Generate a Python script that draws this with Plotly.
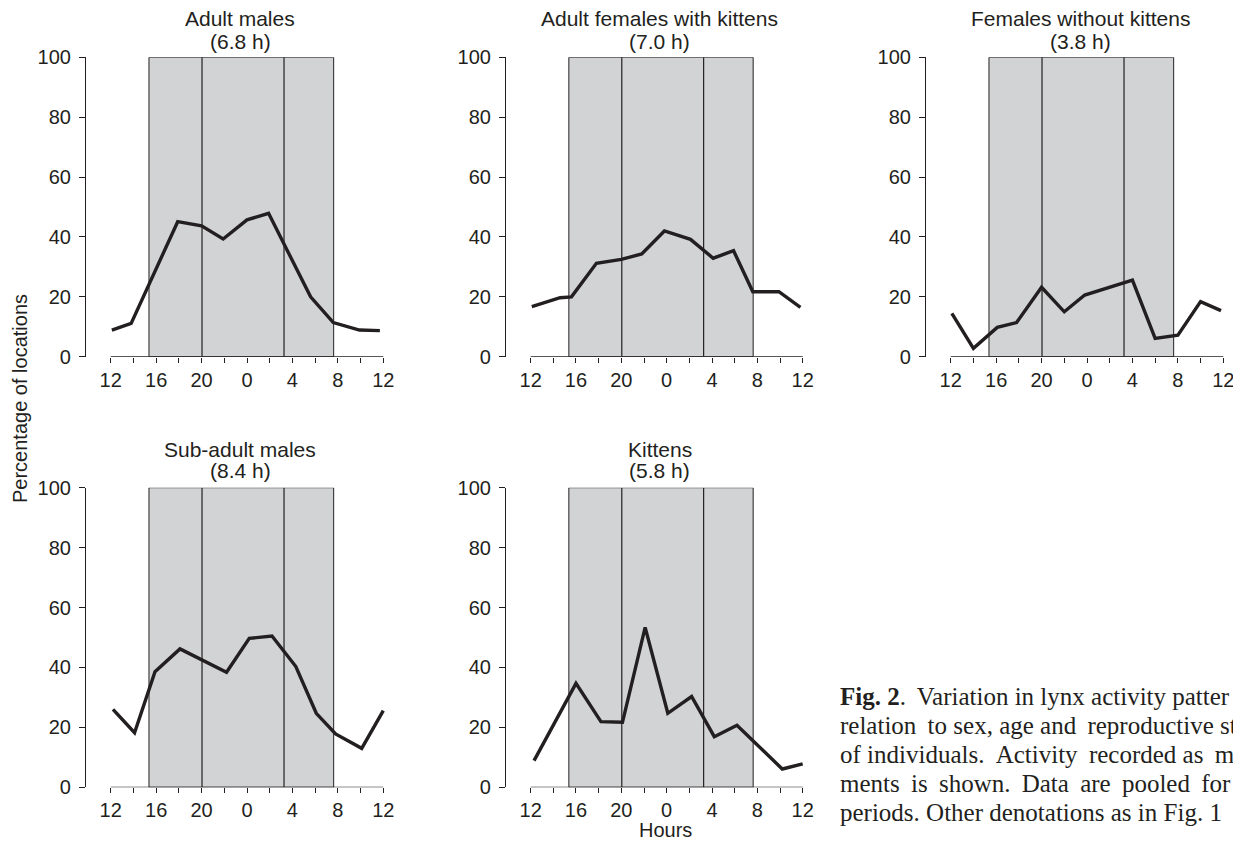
import plotly.graph_objects as go

# The page body adds an 8 px margin, so the figure is drawn 8 px smaller
# and every pixel position below is measured on the 1241x841 page.
PAGE_W, PAGE_H = 1241, 841
OFF = 8
W, H = PAGE_W - OFF, PAGE_H - OFF

# ---- data (x = hours after noon, 0..24) ----
hour_ticks = [0, 2, 4, 6, 8, 10, 12, 14, 16, 18, 20, 22, 24]
hour_labels = ['12', '', '16', '', '20', '', '0', '', '4', '', '8', '', '12']
y_ticks = [0, 20, 40, 60, 80, 100]
night_span = [3.37, 19.63]      # shaded period (hours after noon)
dividers = [8.04, 15.26]        # vertical separators

titles = ["Adult males", "Adult females with kittens", "Females without kittens",
          "Sub-adult males", "Kittens"]
durations = ["(6.8 h)", "(7.0 h)", "(3.8 h)", "(8.4 h)", "(5.8 h)"]

am_x = [0.1, 1.8, 5.9, 8.0, 9.9, 12.0, 13.9, 17.6, 19.6, 21.9, 23.7]
am_y = [8.9, 11.1, 45.1, 43.7, 39.3, 45.7, 47.9, 20.0, 11.4, 8.9, 8.7]

af_x = [0.1, 2.6, 3.6, 5.8, 8.0, 9.8, 11.8, 14.1, 16.1, 17.9, 19.6, 21.9, 23.8]
af_y = [16.7, 19.7, 20.0, 31.2, 32.5, 34.3, 42.0, 39.2, 32.9, 35.4, 21.7, 21.7, 16.5]

fw_x = [0.1, 2.0, 4.1, 5.8, 8.0, 10.0, 11.8, 16.0, 18.0, 20.0, 22.0, 23.8]
fw_y = [14.5, 2.8, 9.8, 11.4, 23.2, 15.0, 20.6, 25.6, 6.1, 7.2, 18.4, 15.4]

sm_x = [0.2, 2.1, 3.9, 6.1, 10.2, 12.2, 14.2, 16.3, 18.1, 19.8, 22.1, 24.0]
sm_y = [26.0, 18.2, 38.6, 46.2, 38.4, 49.7, 50.5, 40.3, 24.7, 17.8, 13.0, 25.6]

k_x = [0.3, 4.0, 6.2, 8.1, 10.1, 12.1, 14.2, 16.2, 18.2, 22.2, 24.0]
k_y = [8.9, 34.7, 21.9, 21.7, 53.4, 24.7, 30.3, 16.9, 20.7, 6.1, 7.8]

series_x = [am_x, af_x, fw_x, sm_x, k_x]
series_y = [am_y, af_y, fw_y, sm_y, k_y]

TS = '\u2009'  # thin space, used to imitate the justified caption
caption_lines = [
    "<b>Fig. 2</b>." + TS + " Variation in lynx activity patter",
    "relation " + TS + "to sex, age and " + TS + "reproductive st",
    "of individuals. " + TS + "Activity " + TS + "recorded as " + TS + "m",
    "ments " + TS + "is " + TS + "shown. " + TS + "Data " + TS + "are " + TS + "pooled " + TS + "for",
    "periods. Other denotations as in Fig. 1",
]

# ---- layout geometry (page pixels) ----
INK = '#231f20'
SHADE = '#d1d3d4'
SANS = 'Liberation Sans, Arial, sans-serif'
SERIF = 'Liberation Serif, Times New Roman, serif'

x_range = [-2.175, 24.3]
col_left = [86, 506, 926]
col_right = [386.7, 806.1, 1226.7]
row_top = [57.3, 487.7]
row_bottom = [356.7, 787.3]
positions = [(0, 0), (0, 1), (0, 2), (1, 0), (1, 1)]


def fx(px):
    return (px - OFF) / W


def fy(py):
    return 1 - (py - OFF) / H


fig = go.Figure()
layout = dict(template='none', width=W, height=H, autosize=False,
              margin=dict(l=0, r=0, t=0, b=0, pad=0),
              paper_bgcolor='white', plot_bgcolor='rgba(0,0,0,0)',
              showlegend=False, shapes=[], annotations=[])

for i, (r, c) in enumerate(positions):
    n = i + 1
    xa = 'xaxis' if n == 1 else f'xaxis{n}'
    ya = 'yaxis' if n == 1 else f'yaxis{n}'
    xr = 'x' if n == 1 else f'x{n}'
    yr = 'y' if n == 1 else f'y{n}'
    layout[xa] = dict(domain=[fx(col_left[c]), fx(col_right[c])], range=x_range,
                      anchor=yr, tickmode='array', tickvals=hour_ticks, ticktext=hour_labels,
                      ticks='outside', ticklen=5, tickwidth=1.2, tickcolor=INK,
                      showline=False, showgrid=False, zeroline=False, automargin=False,
                      tickfont=dict(family=SANS, size=20, color=INK))
    layout[ya] = dict(domain=[fy(row_bottom[r]), fy(row_top[r])], range=[0, 100],
                      anchor=xr, tickmode='array', tickvals=y_ticks,
                      ticks='outside', ticklen=6, tickwidth=1.2, tickcolor=INK,
                      showline=True, linecolor=INK, linewidth=1.2, automargin=False,
                      showgrid=False, zeroline=False, ticklabelstandoff=4,
                      tickfont=dict(family=SANS, size=20, color=INK))
    # shaded night period
    layout['shapes'].append(dict(type='rect', xref=xr, yref=yr,
                                 x0=night_span[0], x1=night_span[1], y0=0, y1=100,
                                 fillcolor=SHADE, line=dict(color=INK, width=1), layer='below'))
    for d in dividers:
        layout['shapes'].append(dict(type='line', xref=xr, yref=yr, x0=d, x1=d, y0=0, y1=100,
                                     line=dict(color=INK, width=1.2), layer='below'))
    # x axis baseline spanning the hour ticks
    layout['shapes'].append(dict(type='line', xref=xr, yref=yr,
                                 x0=hour_ticks[0], x1=hour_ticks[-1], y0=0, y1=0,
                                 line=dict(color=INK, width=1.2), layer='above'))
    fig.add_trace(go.Scatter(x=series_x[i], y=series_y[i], mode='lines',
                             xaxis=xr, yaxis=yr,
                             line=dict(color=INK, width=3.4), hoverinfo='skip'))
    # titles
    t1 = [18, 449][r]
    t2 = [41, 470][r]
    xd = 'x domain' if n == 1 else f'x{n} domain'
    layout['annotations'].append(dict(text=titles[i], xref=xd, x=0.513, yref='paper', y=fy(t1),
                                      xanchor='center', yanchor='middle', showarrow=False,
                                      font=dict(family=SANS, size=21, color=INK)))
    layout['annotations'].append(dict(text=durations[i], xref=xd, x=0.513, yref='paper', y=fy(t2),
                                      xanchor='center', yanchor='middle', showarrow=False,
                                      font=dict(family=SANS, size=21, color=INK)))

layout['annotations'].append(dict(text='Percentage of locations', xref='paper', yref='paper',
                                  x=fx(20), y=fy(399), textangle=-90, showarrow=False,
                                  xanchor='center', yanchor='middle',
                                  font=dict(family=SANS, size=20, color=INK)))
layout['annotations'].append(dict(text='Hours', xref='paper', yref='paper',
                                  x=fx(665), y=fy(830), showarrow=False,
                                  xanchor='center', yanchor='middle',
                                  font=dict(family=SANS, size=20, color=INK)))

cap_y = [696, 725, 754, 783, 812]
for line, yy in zip(caption_lines, cap_y):
    layout['annotations'].append(dict(text=line, xref='paper', yref='paper',
                                      x=fx(838), y=fy(yy), showarrow=False,
                                      xanchor='left', yanchor='middle',
                                      font=dict(family=SERIF, size=25, color=INK)))

fig.update_layout(**layout)
fig.write_html("out.html")
